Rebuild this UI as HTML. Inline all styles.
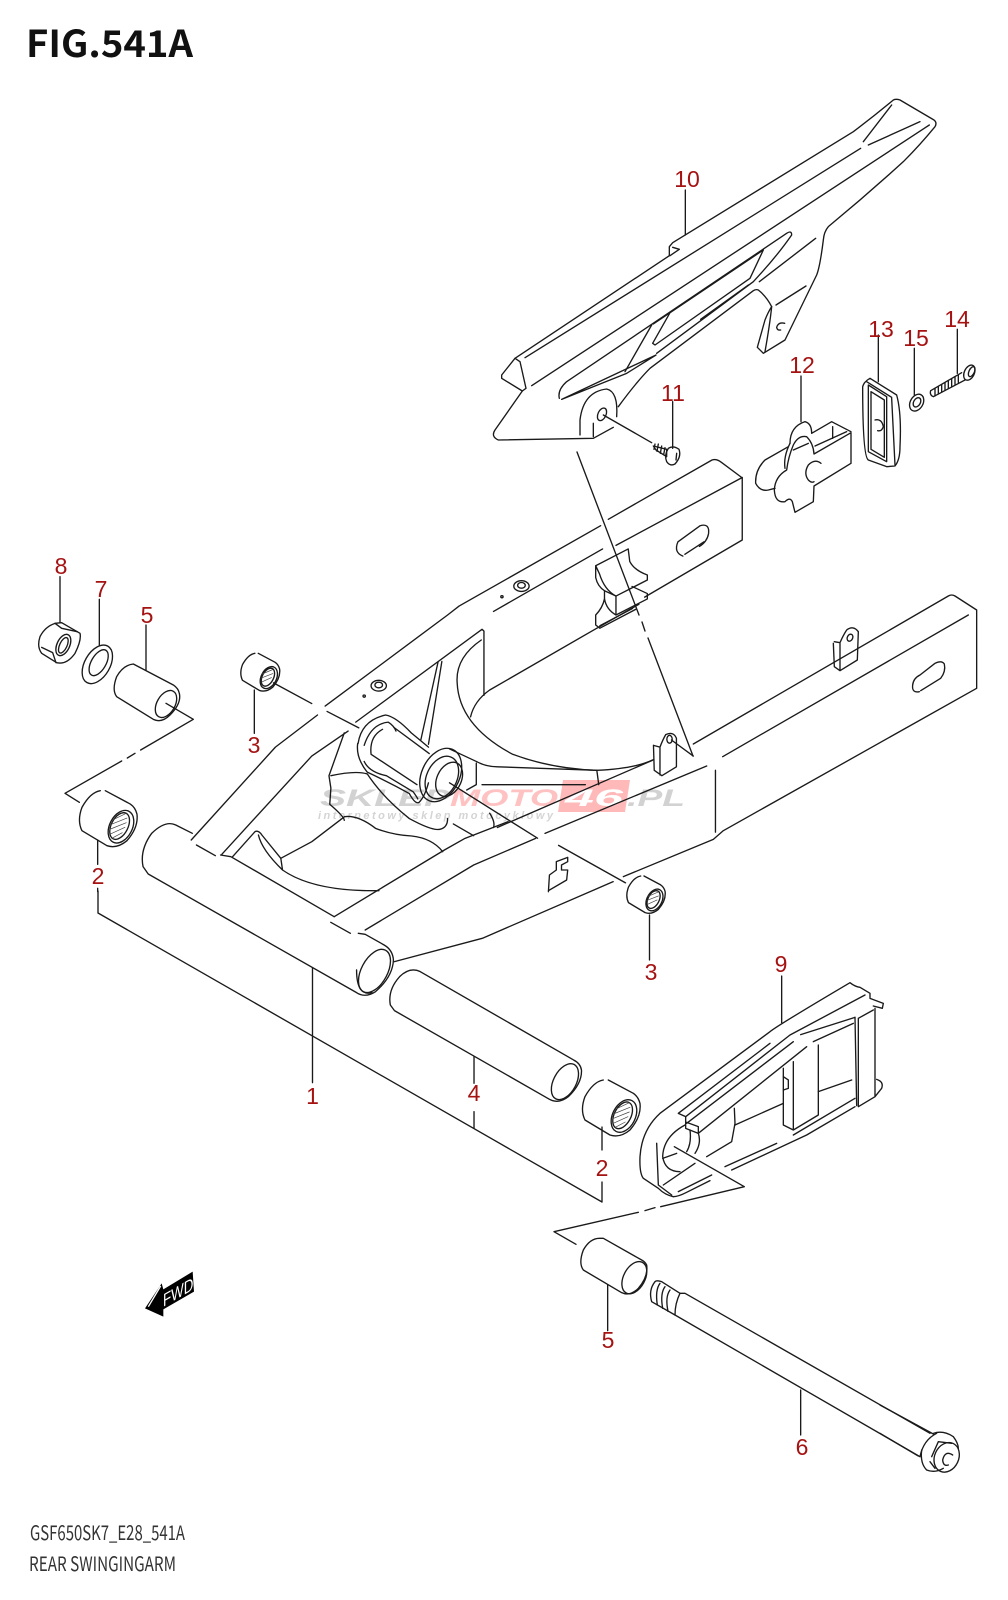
<!DOCTYPE html>
<html><head><meta charset="utf-8"><style>
html,body{margin:0;padding:0;background:#fff}
svg{display:block}
.l path,.l line,.l ellipse{fill:none;stroke:#1a1a1a;stroke-width:1.35;stroke-linecap:round;stroke-linejoin:round;vector-effect:non-scaling-stroke}
.l path.h{stroke:#444;stroke-width:.7}
.n{font-family:"Liberation Sans",sans-serif;font-size:23px;fill:#a51212;text-anchor:middle}
</style></head><body>
<svg width="1008" height="1600" viewBox="0 0 1008 1600" xmlns="http://www.w3.org/2000/svg">
<rect width="1008" height="1600" fill="#fff"/>
<text x="26" y="57" font-family="'Noto Sans CJK JP','Liberation Sans',sans-serif" font-weight="700" font-size="37" fill="#111" textLength="167" lengthAdjust="spacingAndGlyphs">FIG.541A</text>
<text x="30" y="1540" font-family="'Noto Sans CJK JP','Liberation Sans',sans-serif" font-size="20" fill="#333" textLength="155" lengthAdjust="spacingAndGlyphs">GSF650SK7_E28_541A</text>
<text x="29" y="1571" font-family="'Noto Sans CJK JP','Liberation Sans',sans-serif" font-size="20" fill="#333" textLength="147" lengthAdjust="spacingAndGlyphs">REAR SWINGINGARM</text>

<!-- watermark -->
<g font-family="'Liberation Sans',sans-serif" font-weight="700" font-style="italic">
<path d="M563,780H630L625,812H558Z" fill="#ffb9b9"/>
<text x="320" y="806" font-size="24" fill="#d2d2d2" textLength="130" lengthAdjust="spacingAndGlyphs">SKLEP</text>
<text x="450" y="806" font-size="24" fill="#ffc2c2" textLength="108" lengthAdjust="spacingAndGlyphs">MOTO</text>
<text x="565" y="806" font-size="24" fill="#fff" textLength="58" lengthAdjust="spacingAndGlyphs">46</text>
<text x="627" y="806" font-size="24" fill="#d2d2d2" textLength="58" lengthAdjust="spacingAndGlyphs">.PL</text>
<text x="318" y="819" font-size="11" fill="#d4d4d4" textLength="235" lengthAdjust="spacing">internetowy sklep motocyklowy</text>
</g>

<defs>
<g id="brg" class="l">
<path d="M190,420Q160,425 135,470Q120,510 135,540L210,585Q240,595 270,570Q305,530 300,490Q295,470 280,460L205,420"/>
<ellipse cx="252" cy="528" rx="34" ry="52" transform="rotate(27 252 528)"/>
<ellipse cx="248" cy="526" rx="25" ry="43" transform="rotate(27 248 526)"/>
<path class="h" d="M226,508L268,488M220,522L270,502M218,536L268,516M220,550L264,530M226,562L256,546"/>
</g>
<g id="brgs" class="l">
<path d="M190,420Q160,425 135,470Q120,510 135,540L210,585Q240,595 270,570Q305,530 300,490Q295,470 280,460L205,420"/>
<ellipse cx="252" cy="528" rx="34" ry="52" transform="rotate(27 252 528)"/>
<ellipse cx="248" cy="526" rx="25" ry="43" transform="rotate(27 248 526)"/>
<path class="h" d="M222,512L270,492M218,530L270,510M220,548L264,528"/>
</g>
</defs>

<g class="l">
<!-- z1 chain guard -->
<g transform="translate(470,90) scale(.33333)">
<path d="M598,497L135,805L95,855V865L157,903L75,1020Q62,1040 85,1050L370,1045L430,1012"/>
<path d="M598,497V470L608,458L1150,125Q1210,80 1270,30Q1278,26 1290,30L1392,90Q1402,98 1395,110Q1350,165 1300,215Q1190,315 1075,410Q1062,425 1060,450Q1050,530 1040,555L945,750L880,790L862,772L885,690Q895,665 905,650Q890,620 865,600Q858,597 850,602L540,835Q500,875 445,950"/>
<path d="M608,472L628,478L600,497M135,805L150,815L168,895L157,903"/>
<path d="M165,803L1172,175M185,887L1378,105M1180,155L1265,45M1195,165L1350,95"/>
<path d="M268,925Q262,900 290,875L950,430Q965,420 965,435Q920,500 850,575L560,790M558,795L470,850L275,928Z"/>
<path d="M545,705L465,845M600,668L548,760L555,765L840,565L880,480M550,702L880,480M692,688L835,585"/>
<path d="M1037,445L868,575M1008,588L918,645M905,650Q900,700 885,785"/>
<path d="M944,700Q925,695 920,712Q922,722 932,720"/>
<path d="M330,1035V990Q340,905 410,897Q445,905 440,980M370,1000V1040"/>
<ellipse cx="396" cy="973" rx="12" ry="20" transform="rotate(25 396 973)"/>
<path d="M400,975L545,1058M646,300V435M608,935V1075"/>
<path d="M550,1068L590,1078L590,1100L558,1080Z"/>
<path d="M555,1062L552,1078M565,1062L561,1084M575,1068L571,1090M585,1073L581,1094"/>
<path d="M595,1075Q610,1065 627,1078Q635,1100 615,1122Q600,1130 590,1115Q582,1095 595,1075Z"/>
<path d="M620,1090L618,1110"/>
</g>

<!-- long dashed leader -->
<path d="M577,452L639,615M642,622L645,631M648,638L693,756"/>

<!-- z2 swingarm central -->
<g transform="translate(130,440) scale(.38265,.35714)">
<path d="M160,1120L380,860L490,770M510,745L830,490L860,465L1230,240M1250,222L1521,56Q1532,52 1545,62L1600,106V280L1345,440"/>
<path d="M240,1160L475,885L570,815M590,790L920,530L925,535V715"/>
<path d="M950,480L1235,305M1270,295L1600,105"/>
<path d="M1330,460L1215,530L940,700Q900,730 890,775"/>
<path d="M918,560Q850,610 855,680Q860,800 1000,880Q1100,920 1220,925Q1320,920 1368,895"/>
<path d="M805,622L760,840M815,620L780,852"/>
<ellipse cx="650" cy="688" rx="20" ry="15"/><ellipse cx="650" cy="686" rx="10" ry="8"/>
<ellipse cx="1023" cy="409" rx="20" ry="15"/><ellipse cx="1023" cy="407" rx="10" ry="8"/>
<ellipse cx="612" cy="717" rx="3" ry="3"/><ellipse cx="972" cy="439" rx="3" ry="3"/>
<path d="M1445,325Q1420,315 1432,285L1490,240Q1515,232 1512,262Q1508,285 1488,298"/>
<path d="M1450,320L1500,285"/>
<!-- bracket X -->
<path d="M1217,352L1302,305L1306,340Q1318,365 1352,378V392L1270,437Q1240,420 1227,375L1217,352V385Q1222,410 1240,422V445Q1235,470 1217,490V518L1228,527L1322,474M1228,520L1313,472"/>
<path d="M1240,422L1270,437V490Q1245,475 1240,445M1270,490L1352,445V430L1312,410"/>
<!-- dashed axis -->
<path d="M375,680L475,738M515,760L598,806"/>
<path d="M835,960L1065,1115M1120,1135L1295,1240"/>
<!-- pivot tube -->
<path d="M596,850Q605,785 668,770Q695,775 735,820L780,860"/>
<path d="M612,855Q630,795 675,790Q690,800 695,815"/>
<path d="M660,810Q625,830 630,880L750,965"/>
<path d="M690,805L782,878"/>
<path d="M595,850Q590,890 620,930Q680,960 730,990Q745,1020 755,1015Q770,1000 780,960"/>
<path d="M612,900Q625,930 670,940L740,985Q750,1000 752,1005"/>
<ellipse cx="812" cy="938" rx="50" ry="78" transform="rotate(22 812 938)"/>
<ellipse cx="815" cy="945" rx="40" ry="62" transform="rotate(22 815 945)"/>
<ellipse cx="834" cy="950" rx="32" ry="50" transform="rotate(22 834 950)"/>
<path d="M835,865L905,900Q930,915 960,915L1220,925L1225,965"/>
<path d="M905,905V965L880,980M920,965L1190,965"/>
<!-- lower left -->
<path d="M560,820L520,940L525,975L522,1020Q560,1055 560,1065"/>
<path d="M525,940Q590,925 620,935Q660,1000 730,1060Q790,1095 810,1090Q830,1085 830,1060"/>
<path d="M845,1075L898,1108M940,1045Q955,1070 950,1085"/>
<!-- cross line -->
<path d="M960,1085L1365,897"/>
<!-- lower bracket -->
<path d="M1368,855L1370,925L1390,940L1428,915L1428,835Q1420,815 1400,825Q1392,840 1385,860L1368,855M1385,860V938"/>
<ellipse cx="1410" cy="838" rx="7" ry="11"/>
<path d="M1415,840L1472,885"/>
<path d="M1530,925V1098"/>
</g>

<!-- z3 right arm -->
<g transform="translate(500,560) scale(.33333)">
<path d="M580,552L1345,108Q1355,102 1365,108L1430,150V385L670,812L640,838L370,950M668,590L1405,165M135,820L620,618"/>
<path d="M1258,395Q1235,400 1238,375Q1240,355 1260,345L1305,310Q1325,300 1333,312Q1338,335 1322,355M1262,392L1322,355"/>
<path d="M1000,250L1003,320L1020,332L1072,300L1075,215Q1060,195 1040,210Q1030,225 1020,248L1003,245M1020,250V330"/>
<ellipse cx="1050" cy="233" rx="8" ry="11" transform="rotate(25 1050 233)"/>
</g>

<!-- z11 front tube -->
<g transform="translate(100,800) scale(.3444,.3333)">
<path d="M268,100L220,75Q190,60 150,100Q115,150 125,200L140,222L745,578Q770,595 800,575Q850,530 852,480Q850,450 825,435L770,403L750,400"/>
<path d="M745,510Q745,590 790,578"/>
<ellipse cx="797" cy="513" rx="38" ry="70" transform="rotate(27 797 513)"/>
<path d="M280,135L335,167M350,165L380,170L680,350M670,367L727,400"/>
<path d="M385,170L450,95Q460,90 470,105L525,175L530,210M460,105Q470,150 530,210Q620,275 810,272"/>
<path d="M525,175L615,125L710,50Q750,45 800,85Q850,105 905,108Q965,115 995,155"/>
<path d="M680,350L1000,150L1060,115L1185,65M770,390L1085,195L1265,115M855,485L1110,415L1490,245"/>
<path d="M930,515Q900,500 870,530Q835,570 843,615L855,632L1300,895Q1330,915 1360,890Q1400,850 1398,810Q1395,790 1375,780Z"/>
<ellipse cx="1350" cy="845" rx="33" ry="58" transform="rotate(27 1350 845)"/>
<path d="M617,505V848M1086,770V850M1086,935V985"/>
<path d="M1302,275L1305,225L1325,210V185L1358,172V185L1340,195V210L1358,210L1355,240L1302,272"/>
</g>

<path d="M98,891V913L602,1202V1182"/>
<path d="M602,1127V1150"/>

<!-- bearings -->
<use href="#brg" transform="translate(582.3,1080) scale(.33333) translate(-127,-420)"/>
<use href="#brg" transform="translate(79.3,790.7) scale(.33333) translate(-127,-420)"/>
<use href="#brgs" transform="translate(240.7,653.3) scale(.225) translate(-127,-420)"/>
<use href="#brgs" transform="translate(626.7,876) scale(.222) translate(-127,-420)"/>
<path d="M649.5,915V960"/>

<!-- z5 left parts -->
<g transform="translate(20,530) scale(.33333)">
<path d="M105,280Q75,290 60,320Q50,350 65,370L110,398Q140,405 165,370Q185,330 180,310L125,278Z"/>
<path d="M105,280L125,295L172,305M65,352L98,368L108,398"/>
<ellipse cx="130" cy="345" rx="19" ry="34" transform="rotate(25 130 345)"/>
<ellipse cx="130" cy="346" rx="11" ry="25" transform="rotate(25 130 346)"/>
<ellipse cx="232" cy="403" rx="38" ry="63" transform="rotate(30 232 403)"/>
<ellipse cx="236" cy="398" rx="22" ry="43" transform="rotate(30 236 398)"/>
<path d="M340,402Q310,405 290,440Q275,480 290,500L400,568Q425,580 450,555Q485,520 478,490Q475,475 460,465Z"/>
<ellipse cx="438" cy="522" rx="27" ry="44" transform="rotate(30 438 522)"/>
<path d="M120,140V278M238,208V345M378,285V420"/>
<path d="M438,520L520,568L362,660M345,670L322,684M305,693L135,790L178,817"/>
<path d="M703,480V610M233,930V1003M233,1075V1085"/>
</g>

<!-- z4 adjuster, spacer, axle -->
<g transform="translate(540,940) scale(.33333)">
<path d="M400,770Q375,765 355,745L310,715Q298,700 300,650Q305,570 360,520L690,275Q710,258 930,128Q945,140 960,142L990,160V175L1030,190L1027,205L1000,198"/>
<path d="M400,770Q415,770 440,757L510,722"/>
<path d="M415,520L437,530L750,285L975,165M415,520L690,310M440,550L760,305M475,580L800,320"/>
<path d="M437,530V565L475,580V560L440,547"/>
<path d="M945,232L950,497M955,235V500M1005,205V470L1025,445Q1032,425 1010,418M955,235L1000,210M955,500L1005,470"/>
<path d="M945,232L782,284M940,250L820,305M835,315V525M760,365V570M730,385V555L760,570L835,525"/>
<path d="M730,410L745,420V445L730,450M835,455L935,420M585,555L730,490"/>
<path d="M945,475L760,585M575,690L800,585L945,500M555,680L710,610"/>
<path d="M500,650L575,605L585,550L583,505"/>
<path d="M435,555Q370,590 368,650Q375,695 420,695M350,610L355,735M368,655L410,640M465,670L370,735M355,735L395,765"/>
<path d="M415,755L515,705M450,570Q455,610 440,635M475,580Q485,610 465,640"/>
<path d="M725,108V248"/>
<path d="M403,620L613,740L362,800M345,803L315,812M295,817L42,875L108,913"/>
<path d="M178,895Q150,895 130,930Q115,970 130,990L245,1058Q270,1070 295,1045Q325,1010 320,975Q315,965 305,960L190,895Z"/>
<ellipse cx="283" cy="1013" rx="32" ry="52" transform="rotate(28 283 1013)"/>
<path d="M203,1035V1172"/>
<path d="M345,1025Q325,1050 335,1085L405,1125Q405,1090 420,1060L365,1025Q350,1020 345,1025Z"/>
<path d="M360,1030Q345,1050 352,1095M375,1040Q360,1060 368,1105M390,1050Q375,1070 384,1114"/>
<path d="M420,1060H435L1170,1480M405,1125L1140,1550M782,1350V1485"/>
</g>

<!-- z10 bolt head -->
<g transform="translate(880,1400) scale(.33333)">
<path d="M0,15L160,102M0,100L115,168"/>
<path d="M160,100Q190,90 220,110Q235,130 235,145"/>
<path d="M125,150Q120,190 140,210Q165,220 190,205"/>
<path d="M120,170Q130,120 170,100"/>
<ellipse cx="200" cy="172" rx="36" ry="46" transform="rotate(25 200 172)"/>
<path d="M155,170L175,125L215,130M150,185L165,205"/>
<path d="M218,165Q195,150 188,180Q190,200 205,195"/>
</g>

<!-- z12 items -->
<g transform="translate(740,320) scale(.33333)">
<path d="M183,168V305M415,45V185M523,85V225M652,28V160"/>
<path d="M160,375Q175,345 200,350Q220,370 222,402L333,338V430L222,498L220,545L165,577L157,545Q150,530 135,545Q105,550 103,510Q105,470 140,450Q145,410 160,375Z"/>
<path d="M145,380L75,420Q45,450 47,490Q60,515 85,510L105,505"/>
<path d="M150,370Q130,410 135,445"/>
<path d="M150,370Q150,320 195,305Q215,310 215,340L275,305L333,335M225,378L320,335M278,320V355M160,390L205,370"/>
<path d="M243,430Q225,415 205,435Q190,460 205,480Q215,490 222,485"/>
<path d="M390,175L470,225Q485,280 480,380Q480,420 465,438L440,440L385,420Q368,410 368,200Q372,185 390,175Z"/>
<path d="M385,195L440,230V425L385,395ZM393,215L433,240V412L393,388ZM455,235L465,435M380,185L455,232"/>
<path d="M405,300Q425,295 430,320Q425,335 413,332"/>
<ellipse cx="530" cy="248" rx="19" ry="27" transform="rotate(30 530 248)"/>
<ellipse cx="531" cy="247" rx="10" ry="15" transform="rotate(30 531 247)"/>
<path d="M572,212L665,158M580,230L675,180M572,212Q568,225 580,230"/>
<path d="M585,205V228M595,200V222M605,194V216M615,188V210M625,182V205M635,176V199M645,170V193M655,165V187"/>
<ellipse cx="688" cy="158" rx="15" ry="24" transform="rotate(25 688 158)"/>
<ellipse cx="695" cy="155" rx="8" ry="16" transform="rotate(25 695 155)"/>
</g>
</g>

<!-- labels -->
<g class="n">
<text x="687" y="187">10</text><text x="673" y="401">11</text><text x="802" y="373">12</text>
<text x="881" y="337">13</text><text x="916" y="346">15</text><text x="957" y="327">14</text>
<text x="61" y="574">8</text><text x="101" y="597">7</text><text x="147" y="623">5</text>
<text x="254" y="753">3</text><text x="98" y="884">2</text><text x="312.5" y="1104">1</text>
<text x="474" y="1101">4</text><text x="602" y="1176">2</text><text x="651" y="980">3</text>
<text x="781" y="972">9</text><text x="608" y="1348">5</text><text x="802" y="1455">6</text>
</g>

<!-- FWD -->
<g transform="translate(120,1250) scale(.33333)">
<path d="M75,175L125,100L130,118L218,65L222,125L130,178V200Z" fill="#000"/>
<path d="M85,170L122,108" stroke="#fff" stroke-width="4" fill="none"/>
</g>
<text transform="matrix(.866,-.5,0,1,163,1307)" font-family="'Liberation Sans',sans-serif" font-size="18" fill="#fff" textLength="35" lengthAdjust="spacingAndGlyphs">FWD</text>
</svg>
</body></html>
